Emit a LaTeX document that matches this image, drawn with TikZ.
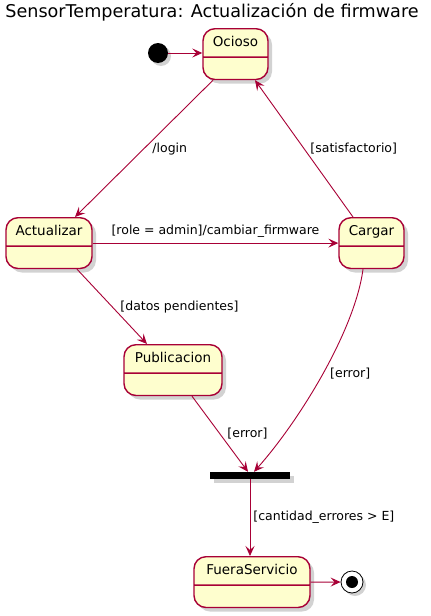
\documentclass[tikz,border=0pt]{standalone}
\usepackage{fontspec}
\setmainfont{DejaVu Sans}
\usetikzlibrary{arrows.meta,shapes.multipart,shadows}

\definecolor{statefill}{HTML}{FEFECE}
\definecolor{stateline}{HTML}{A80036}

\begin{document}
\begin{tikzpicture}[x=1pt, y=-1pt,
  state/.style={rectangle split, rectangle split parts=2, anchor=north,
    rounded corners=12pt, draw=stateline, line width=1.4pt, fill=statefill,
    drop shadow={shadow xshift=4pt, shadow yshift=-4pt, opacity=0.35},
    font=\fontsize{13.5}{16}\selectfont, text height=10pt, text depth=2pt,
    inner xsep=0pt, inner ysep=7.5pt,
    rectangle split empty part height=6pt, rectangle split empty part depth=0pt},
  trans/.style={draw=stateline, line width=0.9pt,
    -{Stealth[length=10pt,width=9pt,inset=4pt]}},
  lbl/.style={font=\fontsize{12.5}{15}\selectfont, inner sep=1pt, text=black}]

  \useasboundingbox[fill=white] (0,0) rectangle (431,616);

  % title
  \node[font=\fontsize{17.6}{20}\selectfont] (title) at (212,12)
    {SensorTemperatura: Actualización de firmware};

  % states
  \node[circle, fill=black, minimum size=20pt, inner sep=0pt,
    drop shadow={shadow xshift=3pt, shadow yshift=-3pt, opacity=0.35}] (init) at (158,53) {};
  \node[state, minimum width=65pt] (ocioso) at (235.5,28) {Ocioso \nodepart{two}};
  \node[state, minimum width=86pt] (actualizar) at (49,217) {Actualizar \nodepart{two}};
  \node[state, minimum width=65pt] (cargar) at (371.5,217) {Cargar \nodepart{two}};
  \node[state, minimum width=98pt] (publicacion) at (173,344) {Publicacion \nodepart{two}};
  \node[rectangle, fill=black, minimum width=80pt, minimum height=7pt, inner sep=0pt,
    drop shadow={shadow xshift=4pt, shadow yshift=-4pt, opacity=0.35}] (join) at (250,475.5) {};
  \node[state, minimum width=116pt] (fuera) at (252,556) {FueraServicio \nodepart{two}};
  \node[circle, draw=black, line width=0.8pt, fill=white, minimum size=22pt, inner sep=0pt,
    drop shadow={shadow xshift=3pt, shadow yshift=-3pt, opacity=0.35},
    path picture={\fill[black] (path picture bounding box.center) circle (6pt);}] (final) at (352,582) {};

  % transitions
  \draw[trans] (init) -- (init -| ocioso.west);
  \draw[trans] ([xshift=-22.5pt]ocioso.south) -- ([xshift=26pt]actualizar.north)
    node[lbl, midway, anchor=west, xshift=7pt] {/login};
  \draw[trans] ([xshift=-18.5pt]cargar.north) -- ([xshift=19.5pt]ocioso.south)
    node[lbl, midway, anchor=west, xshift=5pt] {[satisfactorio]};
  \draw[trans] (actualizar.east) -- (cargar.west)
    node[lbl, midway, above=4pt] {[role = admin]/cambiar\_firmware};
  \draw[trans] ([xshift=28pt]actualizar.south) -- ([xshift=-26pt]publicacion.north)
    node[lbl, midway, anchor=west, xshift=7pt] {[datos pendientes]};
  \draw[trans] ([xshift=19pt]publicacion.south) -- ([xshift=-2pt]join.north)
    node[lbl, midway, anchor=west, xshift=6pt] {[error]};
  \draw[trans] ([xshift=-8.5pt]cargar.south) .. controls (355,330) and (300,420) .. ([xshift=4pt]join.north)
    node[lbl, pos=0.5, anchor=west, xshift=6pt] {[error]};
  \draw[trans] (join.south) -- (join.south |- fuera.north)
    node[lbl, midway, anchor=west, xshift=2pt] {[cantidad\_errores > E]};
  \draw[trans] (fuera.east) -- (final);
\end{tikzpicture}
\end{document}
